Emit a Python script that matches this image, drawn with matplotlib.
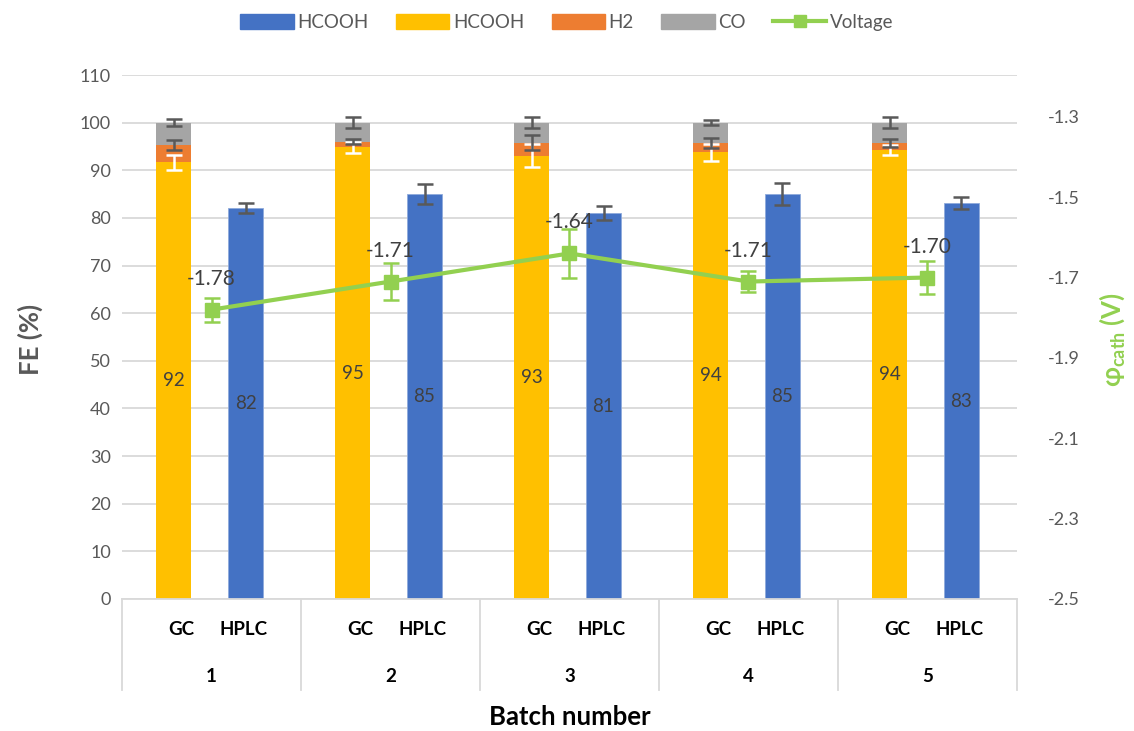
import numpy as np
import matplotlib
matplotlib.use("Agg")
import matplotlib.pyplot as plt
import matplotlib.transforms as mtransforms
from matplotlib.patches import Patch
from matplotlib.lines import Line2D

plt.rcParams["font.family"] = ["Lato", "DejaVu Sans"]
plt.rcParams["axes.unicode_minus"] = False

# ---- data ----
batches = ["1", "2", "3", "4", "5"]
methods = ["GC", "HPLC"]

gc_hcooh = [91.7, 94.8, 93.1, 93.8, 94.3]
gc_hcooh_err = [1.6, 1.2, 2.35, 1.75, 1.1]
gc_h2 = [3.7, 1.2, 2.7, 1.9, 1.4]
gc_h2_err = [1.05, 0.55, 1.6, 1.05, 0.8]
gc_co = [4.6, 4.0, 4.2, 4.3, 4.3]
gc_co_err = [0.8, 1.1, 1.15, 0.55, 1.1]

hplc_hcooh = [82.0, 85.0, 81.0, 85.0, 83.1]
hplc_hcooh_err = [1.05, 2.1, 1.5, 2.3, 1.2]

voltage = [-1.78, -1.71, -1.64, -1.71, -1.70]
voltage_err = [0.03, 0.045, 0.06, 0.025, 0.04]

# ---- styling ----
C_BLUE = "#4472C4"
C_YELLOW = "#FFC000"
C_ORANGE = "#ED7D31"
C_GRAY = "#A5A5A5"
C_GREEN = "#92D050"
C_TEXT = "#595959"
C_LABEL = "#404040"
C_GRID = "#D9D9D9"
C_ERR = "#595959"

fig = plt.figure(figsize=(11.34, 7.31), dpi=100)
ax = fig.add_axes([0.1076, 0.1806, 0.7892, 0.7168])

n = len(batches)
centers = np.arange(1, n + 1)
x_gc = centers - 0.21
x_hplc = centers + 0.19
width = 0.196

gc_hcooh_a = np.array(gc_hcooh)
gc_h2_a = np.array(gc_h2)
gc_co_a = np.array(gc_co)

ax.bar(x_gc, gc_hcooh_a, width, color=C_YELLOW, zorder=2)
ax.bar(x_gc, gc_h2_a, width, bottom=gc_hcooh_a, color=C_ORANGE, zorder=2)
ax.bar(x_gc, gc_co_a, width, bottom=gc_hcooh_a + gc_h2_a, color=C_GRAY, zorder=2)
ax.bar(x_hplc, hplc_hcooh, width, color=C_BLUE, edgecolor="#8FAADC",
       linewidth=0.6, zorder=2)

eb = dict(fmt="none", capsize=6, elinewidth=1.8, capthick=1.8, zorder=3)
ax.errorbar(x_gc, gc_hcooh_a, yerr=gc_hcooh_err, ecolor="white", **eb)
ax.errorbar(x_gc, gc_hcooh_a + gc_h2_a, yerr=gc_h2_err, ecolor=C_ERR, **eb)
ax.errorbar(x_gc, gc_hcooh_a + gc_h2_a + gc_co_a, yerr=gc_co_err, ecolor=C_ERR, **eb)
ax.errorbar(x_hplc, hplc_hcooh, yerr=hplc_hcooh_err, ecolor=C_ERR, **eb)

for x, v in zip(x_gc, gc_hcooh):
    ax.text(x, v / 2, f"{v:.0f}", ha="center", va="center", fontsize=13.5,
            color=C_LABEL, zorder=4)
for x, v in zip(x_hplc, hplc_hcooh):
    ax.text(x, v / 2, f"{v:.0f}", ha="center", va="center", fontsize=13.5,
            color=C_LABEL, zorder=4)

ax.set_xlim(0.5, n + 0.5)
ax.set_ylim(0, 110)
ax.set_yticks(np.arange(0, 111, 10))
ax.tick_params(axis="y", length=0, labelsize=13, labelcolor=C_TEXT, pad=8)
ax.set_xticks([])
ax.grid(axis="y", color=C_GRID, linewidth=1.3, zorder=0)
ax.set_axisbelow(True)
for s in ["left", "right", "top"]:
    ax.spines[s].set_visible(False)
ax.spines["bottom"].set_color(C_GRID)
ax.spines["bottom"].set_linewidth(1.3)

# multi-level category axis
trans = mtransforms.blended_transform_factory(ax.transData, ax.transAxes)
for b in np.arange(0.5, n + 1.0, 1.0):
    ax.plot([b, b], [0, -0.174], transform=trans, color=C_GRID, lw=1.3,
            clip_on=False)
for c, lab in zip(centers, batches):
    ax.text(c - 0.17, -0.059, methods[0], transform=trans, ha="center",
            va="center", fontsize=13.5, fontweight="bold", color="black")
    ax.text(c + 0.18, -0.059, methods[1], transform=trans, ha="center",
            va="center", fontsize=13.5, fontweight="bold", color="black")
    ax.text(c, -0.147, lab, transform=trans, ha="center", va="center",
            fontsize=13.5, fontweight="bold", color="black")

ax.text(0.5, -0.225, "Batch number", transform=ax.transAxes, ha="center",
        va="center", fontsize=18.5, fontweight="bold", color="black")
fig.text(0.027, 0.5354, "FE (%)", rotation=90, ha="center", va="center",
         fontsize=18.5, fontweight="bold", color=C_TEXT)

# secondary axis: cathode potential
ax2 = ax.twinx()
ax2.set_ylim(-2.5, -1.196)
ax2.set_yticks(np.round(np.arange(-2.5, -1.29, 0.2), 1))
ax2.yaxis.set_major_formatter(matplotlib.ticker.FuncFormatter(lambda v, p: f"{v:.1f}"))
ax2.tick_params(axis="y", length=0, labelsize=13, labelcolor=C_TEXT, pad=22)
for s in ["left", "right", "top", "bottom"]:
    ax2.spines[s].set_visible(False)

ax2.errorbar(centers, voltage, yerr=voltage_err, fmt="none", ecolor=C_GREEN,
             capsize=6, elinewidth=1.8, capthick=1.8, zorder=3)
ax2.plot(centers, voltage, color=C_GREEN, lw=3, marker="s", markersize=10,
         zorder=4)
for c, v in zip(centers, voltage):
    ax2.annotate(f"{v:.2f}", (c, v), xytext=(0, 31), textcoords="offset pixels",
                 ha="center", va="center", fontsize=15, color=C_LABEL, zorder=5)

fig.text(0.9805, 0.5354, r"φ$_{\mathregular{cath}}$ (V)", rotation=90,
         ha="center", va="center", fontsize=18.5, fontweight="bold",
         color=C_GREEN)

handles = [
    Patch(color=C_BLUE, label="HCOOH"),
    Patch(color=C_YELLOW, label="HCOOH"),
    Patch(color=C_ORANGE, label="H2"),
    Patch(color=C_GRAY, label="CO"),
    Line2D([], [], color=C_GREEN, lw=3, marker="s", markersize=8,
           label="Voltage"),
]
leg = fig.legend(handles=handles, loc="center", bbox_to_anchor=(0.500, 0.969),
                 ncol=5, frameon=False, fontsize=13.5, handlelength=2.85,
                 handleheight=0.8, handletextpad=0.2, columnspacing=1.45)
for t in leg.get_texts():
    t.set_color(C_TEXT)

fig.savefig("out.png", dpi=100)
